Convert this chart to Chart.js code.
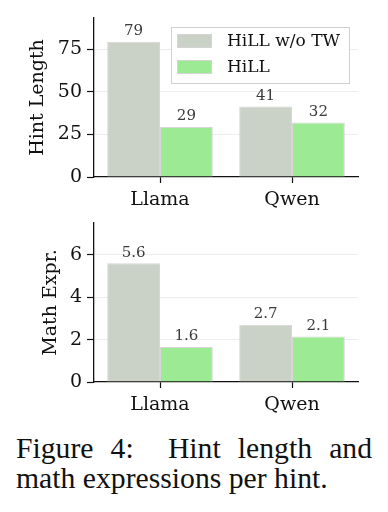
<!DOCTYPE html>
<html>
<head>
<meta charset="utf-8">
<script src="https://cdn.jsdelivr.net/npm/chart.js@4"></script>
<style>
  html, body { margin: 0; padding: 0; background: #fff; }
  body { width: 388px; height: 512px; position: relative; overflow: hidden; }
  #c1 { position: absolute; left: 0; top: 0; }
  #c2 { position: absolute; left: 0; top: 215px; }
  .caption {
    position: absolute; left: 16px; top: 433px; width: 356px;
    font-family: "Liberation Serif", "Times New Roman", serif;
    font-size: 29.7px; line-height: 30px; color: #111;
  }
  .caption .l1 { text-align: justify; text-align-last: justify; }
</style>
</head>
<body>
<canvas id="c1" width="388" height="215"></canvas>
<canvas id="c2" width="388" height="205"></canvas>
<div class="caption">
  <div class="l1">Figure 4:&nbsp; Hint length and</div>
  <div>math expressions per hint.</div>
</div>
<script>
// data
const models = ["Llama", "Qwen"];
const seriesNames = ["HiLL w/o TW", "HiLL"];
const seriesColors = ["#cad1c7", "#9cea94"];

const hintLenNoTW = [79.6, 41.5];
const hintLenHiLL = [29.4, 32.1];
const hintLenLabelsNoTW = ["79", "41"];
const hintLenLabelsHiLL = ["29", "32"];
const hintTicks = [0, 25, 50, 75];

const mathNoTW = [5.6, 2.7];
const mathHiLL = [1.65, 2.15];
const mathLabelsNoTW = ["5.6", "2.7"];
const mathLabelsHiLL = ["1.6", "2.1"];
const mathTicks = [0, 2, 4, 6];

const SERIF = "'DejaVu Serif', serif";

// numbers above bars
const valueLabels = {
  id: "valueLabels",
  afterDatasetsDraw(chart, args, opts) {
    const ctx = chart.ctx;
    ctx.save();
    ctx.font = "15px " + SERIF;
    ctx.fillStyle = "#3a3a3a";
    ctx.textAlign = "center";
    ctx.textBaseline = "bottom";
    chart.data.datasets.forEach((ds, i) => {
      chart.getDatasetMeta(i).data.forEach((bar, j) => {
        ctx.fillText(opts.labels[i][j], bar.x, bar.y - 3);
      });
    });
    ctx.restore();
  }
};

// boxed legend inside the plot (matplotlib style)
const boxLegend = {
  id: "boxLegend",
  afterDraw(chart, args, opts) {
    if (!opts.show) return;
    const ctx = chart.ctx;
    const x = 171, y = 27, w = 178, h = 56;
    ctx.save();
    ctx.fillStyle = "rgba(255,255,255,0.85)";
    ctx.fillRect(x, y, w, h);
    ctx.strokeStyle = "#d0d0d0";
    ctx.lineWidth = 1;
    ctx.strokeRect(x + 0.5, y + 0.5, w, h);
    ctx.font = "17px " + SERIF;
    ctx.textBaseline = "middle";
    chart.data.datasets.forEach((ds, i) => {
      const cy = y + 14 + i * 26;
      ctx.fillStyle = ds.backgroundColor;
      ctx.fillRect(x + 6, cy - 7, 35, 14);
      ctx.strokeStyle = "#d4d4d4";
      ctx.strokeRect(x + 6.5, cy - 6.5, 34, 13);
      ctx.fillStyle = "#111";
      ctx.fillText(ds.label, x + 56, cy + 1);
    });
    ctx.restore();
  }
};

function makeChart(id, a, b, labels, ticks, yMax, title, titlePad, padTop, showLegend) {
  const ctx = document.getElementById(id).getContext("2d");
  return new Chart(ctx, {
    type: "bar",
    data: {
      labels: models,
      datasets: [
        { label: seriesNames[0], data: a, backgroundColor: seriesColors[0],
          borderColor: "#d6d6d6", borderWidth: 1 },
        { label: seriesNames[1], data: b, backgroundColor: seriesColors[1],
          borderColor: "#d6d6d6", borderWidth: 1 }
      ]
    },
    options: {
      responsive: false,
      animation: false,
      devicePixelRatio: 1,
      categoryPercentage: 0.8,
      barPercentage: 1.0,
      layout: { padding: { top: padTop, right: 30, bottom: 0, left: 0 } },
      plugins: {
        legend: { display: false },
        tooltip: { enabled: false },
        valueLabels: { labels: labels },
        boxLegend: { show: showLegend }
      },
      scales: {
        x: {
          offset: true,
          grid: { display: true, drawOnChartArea: false, offset: false,
                  tickLength: 6, tickColor: "#111", tickWidth: 1.2 },
          border: { display: true, color: "#111", width: 1.3 },
          ticks: { color: "#111", font: { family: SERIF, size: 19 }, padding: 6 },
          afterFit(s) { s.height = 38; s.paddingLeft = 0; s.paddingRight = 0; }
        },
        y: {
          min: 0,
          max: yMax,
          afterBuildTicks(s) { s.ticks = ticks.map(v => ({ value: v })); },
          grid: {
            color: (c) => (c.tick && c.tick.value === 0 ? "rgba(0,0,0,0)" : "#ededed"),
            lineWidth: 1,
            tickLength: 7, tickColor: "#111", tickWidth: 1.2
          },
          border: { display: true, color: "#111", width: 1.3 },
          ticks: { color: "#111", font: { family: SERIF, size: 19 }, padding: 5 },
          title: {
            display: true, text: title, color: "#111",
            font: { family: SERIF, size: 19 },
            padding: { top: titlePad, bottom: 0 }
          },
          afterFit(s) { s.width = 94; s.paddingTop = 0; s.paddingBottom = 0; }
        }
      }
    },
    plugins: [valueLabels, boxLegend]
  });
}

makeChart("c1", hintLenNoTW, hintLenHiLL, [hintLenLabelsNoTW, hintLenLabelsHiLL],
  hintTicks, 93.5, "Hint Length", 27, 18, true);
makeChart("c2", mathNoTW, mathHiLL, [mathLabelsNoTW, mathLabelsHiLL],
  mathTicks, 7.5, "Math Expr.", 40, 8, false);
</script>
</body>
</html>
